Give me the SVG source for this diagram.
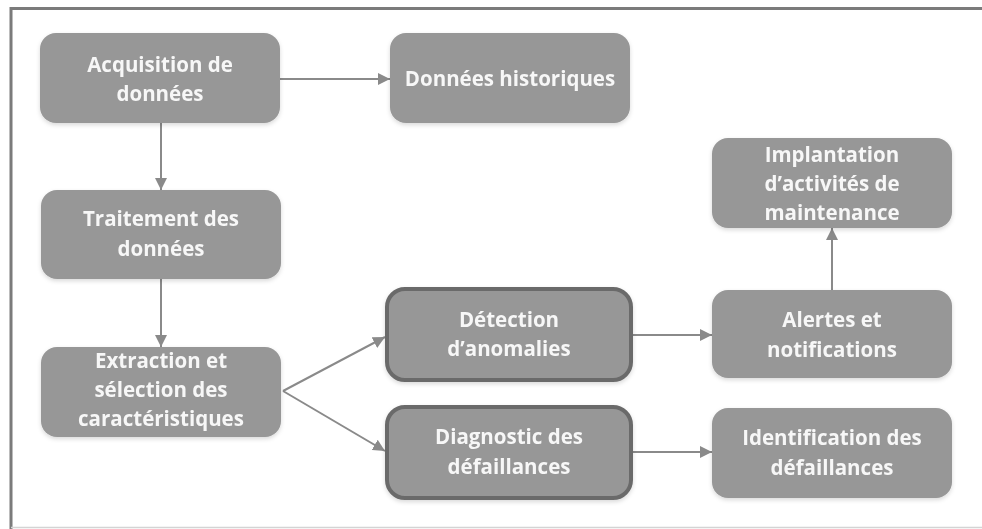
<svg xmlns="http://www.w3.org/2000/svg" width="982" height="529" viewBox="0 0 982 529">
<defs>
<style>
.node rect{fill:#979797;}
.hl rect{stroke:#6b6b6b;stroke-width:4;}
.node text{font-family:"Open Sans",Lato,"Liberation Sans",sans-serif;font-weight:bold;font-size:20.5px;fill:#f7f7f7;text-anchor:middle;}
.edge{stroke:#8a8a8a;stroke-width:2;fill:none;marker-end:url(#ah);}
</style>
<marker id="ah" viewBox="0 0 12 12" refX="12" refY="6" markerWidth="12" markerHeight="12" markerUnits="userSpaceOnUse" orient="auto">
<path d="M0,0 L12,6 L0,12 Z" fill="#8a8a8a"/>
</marker>
<filter id="sh" x="-10%" y="-10%" width="120%" height="130%">
<feDropShadow dx="0" dy="2" stdDeviation="2" flood-color="#000" flood-opacity="0.15"/>
</filter>
</defs>
<rect x="0" y="0" width="982" height="529" fill="#ffffff"/>
<path d="M11,529 V8.5 H982" stroke="#7b7b7b" stroke-width="3" fill="none"/>
<line x1="11" y1="527.5" x2="982" y2="527.5" stroke="#d4d4d4" stroke-width="1.5"/>

<g id="connectors">
<line class="edge" x1="280" y1="79" x2="390" y2="79"/>
<line class="edge" x1="161" y1="123" x2="161" y2="190"/>
<line class="edge" x1="161" y1="279" x2="161" y2="347"/>
<line class="edge" x1="283" y1="391" x2="385" y2="337"/>
<line class="edge" x1="283" y1="391" x2="385" y2="451"/>
<line class="edge" x1="633" y1="335" x2="712" y2="335"/>
<line class="edge" x1="633" y1="452" x2="712" y2="452"/>
<line class="edge" x1="832" y1="290" x2="832" y2="228"/>
</g>

<g id="n-acquisition" class="node" filter="url(#sh)">
<rect x="40" y="33" width="240" height="90" rx="16"/>
<text x="160" y="72">Acquisition de</text>
<text x="160" y="101">données</text>
</g>
<g id="n-historiques" class="node" filter="url(#sh)">
<rect x="390" y="33" width="240" height="90" rx="16"/>
<text x="510" y="86">Données historiques</text>
</g>
<g id="n-traitement" class="node" filter="url(#sh)">
<rect x="41" y="190" width="240" height="89" rx="16"/>
<text x="161" y="226">Traitement des</text>
<text x="161" y="256">données</text>
</g>
<g id="n-extraction" class="node" filter="url(#sh)">
<rect x="41" y="347" width="240" height="90" rx="16"/>
<text x="161" y="368">Extraction et</text>
<text x="161" y="397">sélection des</text>
<text x="161" y="426">caractéristiques</text>
</g>
<g id="n-detection" class="node hl" filter="url(#sh)">
<rect x="387" y="289" width="244" height="91" rx="18"/>
<text x="509" y="327">Détection</text>
<text x="509" y="356">d’anomalies</text>
</g>
<g id="n-diagnostic" class="node hl" filter="url(#sh)">
<rect x="387" y="407" width="244" height="91" rx="18"/>
<text x="509" y="444">Diagnostic des</text>
<text x="509" y="474">défaillances</text>
</g>
<g id="n-implantation" class="node" filter="url(#sh)">
<rect x="712" y="138" width="240" height="90" rx="16"/>
<text x="832" y="162">Implantation</text>
<text x="832" y="191">d’activités de</text>
<text x="832" y="220">maintenance</text>
</g>
<g id="n-alertes" class="node" filter="url(#sh)">
<rect x="712" y="290" width="240" height="88" rx="16"/>
<text x="832" y="327">Alertes et</text>
<text x="832" y="357">notifications</text>
</g>
<g id="n-identification" class="node" filter="url(#sh)">
<rect x="712" y="408" width="240" height="90" rx="16"/>
<text x="832" y="445">Identification des</text>
<text x="832" y="475">défaillances</text>
</g>
</svg>
